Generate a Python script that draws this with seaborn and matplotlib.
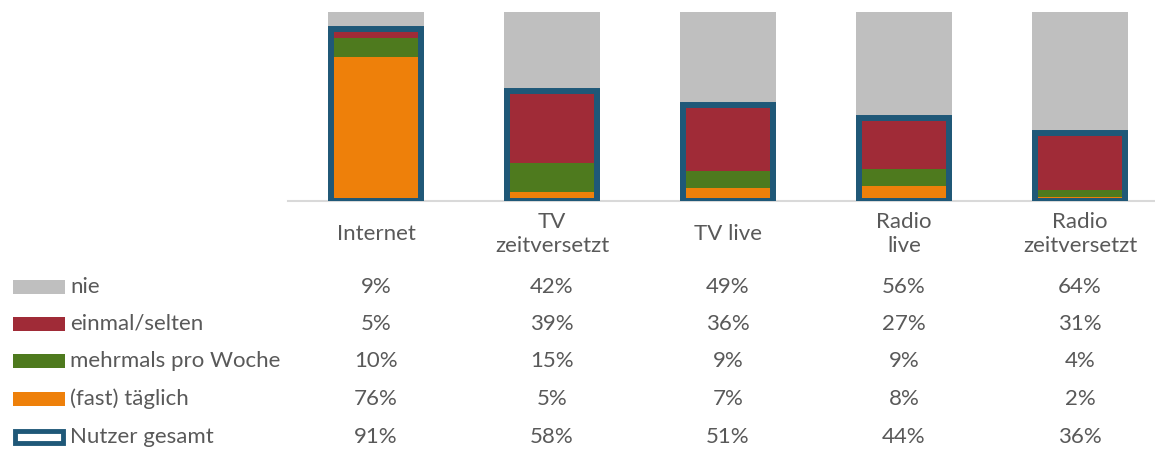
import matplotlib
matplotlib.use("Agg")
import matplotlib.pyplot as plt
import matplotlib.patches as mpatches
import matplotlib.transforms as mtransforms
import numpy as np
import pandas as pd
import seaborn as sns

categories = ["Internet", "TV\nzeitversetzt", "TV live", "Radio\nlive", "Radio\nzeitversetzt"]
nie = [9, 42, 49, 56, 64]
selten = [5, 39, 36, 27, 31]
mehrmals = [10, 15, 9, 9, 4]
taeglich = [76, 5, 7, 8, 2]
nutzer = [91, 58, 51, 44, 36]
series_labels = ["nie", "einmal/selten", "mehrmals pro Woche", "(fast) täglich", "Nutzer gesamt"]

c_gray = "#BFBFBF"
c_red = "#A02B37"
c_green = "#4E7A1E"
c_orange = "#EE800A"
c_blue = "#1F5878"
txt = "#595959"

sns.set_theme(style="white")
plt.rcParams["font.family"] = ["Lato", "DejaVu Sans"]

FS = 16
W, H = 1155, 450
fig = plt.figure(figsize=(W / 100, H / 100), dpi=100)
ax = fig.add_axes([288 / W, (H - 201) / H, (W - 288) / W, 189 / H])

df = pd.DataFrame({
    "cat": categories,
    "orange": taeglich,
    "green": np.add(taeglich, mehrmals),
    "red": np.add(np.add(taeglich, mehrmals), selten),
    "gray": np.add(np.add(np.add(taeglich, mehrmals), selten), nie),
    "nutzer": nutzer,
})

bw = 0.545
for col, color in [("gray", c_gray), ("red", c_red), ("green", c_green), ("orange", c_orange)]:
    sns.barplot(data=df, x="cat", y=col, color=color, width=bw, ax=ax,
                saturation=1, linewidth=0, errorbar=None)
sns.barplot(data=df, x="cat", y="nutzer", width=bw - 0.034, ax=ax, fill=False,
            edgecolor=c_blue, linewidth=4.3, errorbar=None, color=c_blue, zorder=5)

ax.set_ylim(0, 100)
xmin = -0.5
ax.set_xlim(xmin, xmin + (W - 288) / 176)
for s in ["top", "left", "right"]:
    ax.spines[s].set_visible(False)
ax.spines["bottom"].set_color("#D9D9D9")
ax.spines["bottom"].set_linewidth(1.5)
ax.spines["bottom"].set_zorder(1)
ax.set_yticks([])
ax.set_ylabel("")
ax.set_xlabel("")
ax.tick_params(axis="x", length=0, pad=24, labelsize=FS, labelcolor=txt)
for lab in ax.get_xticklabels():
    lab.set_linespacing(1.25)
    lab.set_verticalalignment("center")

# data table
trans = mtransforms.blended_transform_factory(ax.transData, fig.transFigure)
rows = [nie, selten, mehrmals, taeglich, nutzer]
row_y = [287, 324, 361, 399, 437]
key_colors = [c_gray, c_red, c_green, c_orange, None]
for r, (vals, yy, lab, kc) in enumerate(zip(rows, row_y, series_labels, key_colors)):
    fy = 1 - yy / H
    for i, v in enumerate(vals):
        ax.text(i, fy, f"{v}%", transform=trans, ha="center", va="center",
                fontsize=FS, color=txt, clip_on=False)
    fig.text(70 / W, fy, lab, ha="left", va="center", fontsize=FS, color=txt)
    if kc is not None:
        fig.patches.append(mpatches.Rectangle((13 / W, fy - 7 / H), 52 / W, 14 / H,
                                              transform=fig.transFigure, facecolor=kc,
                                              edgecolor="none"))
    else:
        fig.patches.append(mpatches.Rectangle((15 / W, fy - 6 / H), 48 / W, 12 / H,
                                              transform=fig.transFigure, facecolor="white",
                                              edgecolor=c_blue, linewidth=3.5))

fig.savefig("out.png", dpi=100)
